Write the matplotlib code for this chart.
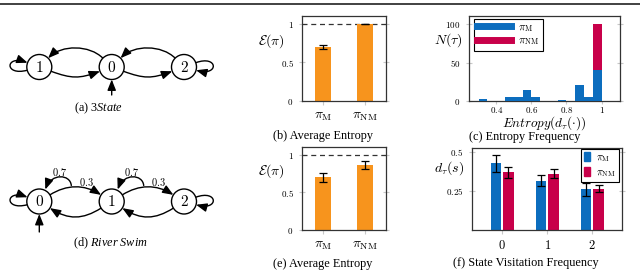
import numpy as np
import matplotlib
matplotlib.use('Agg')
import matplotlib.pyplot as plt
from matplotlib.path import Path
from matplotlib.patches import Circle, FancyArrowPatch, Patch
from matplotlib.lines import Line2D

plt.rcParams['font.family'] = ['Liberation Serif', 'DejaVu Serif']
plt.rcParams['mathtext.fontset'] = 'cm'
# used only by texts that ask for math_fontfamily='custom' (Times-like italics)
plt.rcParams['mathtext.rm'] = 'Liberation Serif'
plt.rcParams['mathtext.it'] = 'Liberation Serif:italic'

# --- data ---
policies = [r'$\pi_{\rm M}$', r'$\pi_{\rm NM}$']
entropy_3state = [0.70, 1.00]
entropy_3state_err = [0.03, 0.0]
entropy_river = [0.70, 0.86]
entropy_river_err = [0.06, 0.05]

hist_bin_left = [0.30, 0.35, 0.40, 0.45, 0.50, 0.55, 0.60, 0.65, 0.70, 0.75, 0.80, 0.85, 0.90, 0.95]
hist_counts_M = [3, 0, 0, 5, 5, 15, 5, 0, 0, 1, 0, 21, 5, 41]
hist_counts_NM = [0, 0, 0, 0, 0, 0, 0, 0, 0, 0, 0, 0, 0, 100]

states = [0, 1, 2]
visit_M = [0.425, 0.315, 0.26]
visit_M_err = [0.055, 0.037, 0.04]
visit_NM = [0.37, 0.36, 0.265]
visit_NM_err = [0.035, 0.03, 0.025]

ORANGE = '#F7941D'
BLUE = '#0C6DBE'
RED = '#C8004A'
SPINE = '#333333'
TICK = '#C8C8C8'

fig = plt.figure(figsize=(6.4, 2.71), dpi=100)

# header rule (cut-off page line)
fig.add_artist(Line2D([0, 1], [1 - 4 / 271] * 2, color='#333333', lw=1.3))

# --- graph diagrams, drawn in pixel coordinates ---
g = fig.add_axes([0, 0, 1, 1])
g.set_xlim(0, 640)
g.set_ylim(271, 0)
g.axis('off')
R = 12.5


def node(c, label):
    g.add_patch(Circle(c, R, fc='white', ec='black', lw=1.0, zorder=3))
    g.text(c[0], c[1] + 0.5, label, ha='center', va='center', fontsize=11, zorder=4)


def on_node(c, ang):
    a = np.radians(ang)
    return (c[0] + R * np.cos(a), c[1] - R * np.sin(a))


def cubic(p0, c1, c2, p3):
    path = Path([p0, c1, c2, p3], [Path.MOVETO, Path.CURVE4, Path.CURVE4, Path.CURVE4])
    g.add_patch(FancyArrowPatch(path=path, arrowstyle='-|>,head_length=0.8,head_width=0.32',
                                mutation_scale=8, lw=1.0, color='black', zorder=2))


def edge(a, ang_a, b, ang_b, L):
    p0 = on_node(a, ang_a)
    p3 = on_node(b, ang_b)
    ra, rb = np.radians(ang_a), np.radians(ang_b)
    c1 = (p0[0] + L * np.cos(ra), p0[1] - L * np.sin(ra))
    c2 = (p3[0] + L * np.cos(rb), p3[1] - L * np.sin(rb))
    cubic(p0, c1, c2, p3)


# (a) 3State
n1, n0, n2 = (39.3, 67.0), (111.7, 67.0), (184.0, 67.0)
edge(n0, 135, n1, 45, 19)
edge(n1, -20, n0, -160, 22)
edge(n2, 135, n0, 45, 19)
edge(n0, -20, n2, -160, 22)
edge(n1, 195, n1, 160, 24)
edge(n2, 20, n2, -15, 24)
cubic((n0[0], 95), (n0[0], 90), (n0[0], 86), (n0[0], n0[1] + R))
for c, lab in [(n1, '$1$'), (n0, '$0$'), (n2, '$2$')]:
    node(c, lab)

# (d) River Swim
m0, m1, m2 = (39.3, 201.5), (111.7, 201.5), (184.0, 201.5)
for a, b in [(m0, m1), (m1, m2)]:
    edge(a, 32, b, 148, 20)
    dx = a[0]
    cubic((dx + 32, 185.5), (dx + 31, 174), (dx + 12, 173), (dx + 6, 189.5))
    g.text(dx + 20, 171.5, '$0.7$', ha='center', va='center', fontsize=7.5)
    g.text(dx + 47, 181.5, '$0.3$', ha='center', va='center', fontsize=7.5)
edge(m1, 212, m0, -32, 22)
edge(m2, 212, m1, -32, 22)
edge(m0, 195, m0, 160, 24)
edge(m2, 20, m2, -15, 24)
cubic((m0[0], 232), (m0[0], 226), (m0[0], 220), (m0[0], m0[1] + R))
for c, lab in [(m0, '$0$'), (m1, '$1$'), (m2, '$2$')]:
    node(c, lab)

# --- charts ---
def style(ax):
    for s in ax.spines.values():
        s.set_color(SPINE)
        s.set_linewidth(0.9)
    ax.tick_params(axis='both', colors=TICK, labelcolor='black', length=3, width=0.8)
    ax.tick_params(axis='y', direction='inout', right=True, length=5)
    ax.set_axisbelow(True)


def entropy_panel(rect, vals, errs, caption, cap_y):
    ax = fig.add_axes(rect)
    x = np.arange(len(vals))
    ax.bar(x, vals, width=0.38, color=ORANGE, zorder=2)
    ax.errorbar(x, vals, yerr=errs, fmt='none', ecolor='black', elinewidth=0.9,
                capsize=3, capthick=0.9, zorder=3)
    ax.axhline(1.0, color='#333333', lw=0.9, ls=(0, (4, 3)), zorder=1)
    ax.set_xlim(-0.5, 1.5)
    ax.set_ylim(0, 1.1)
    ax.set_yticks([0, 0.5, 1])
    ax.set_yticklabels(['$0$', '$0.5$', '$1$'], fontsize=6.5)
    ax.set_xticks(x)
    ax.set_xticklabels(policies, fontsize=10)
    style(ax)
    ax.set_ylabel(r'$\mathcal{E}(\pi)$', rotation=0, fontsize=10, va='center', ha='center')
    ax.yaxis.set_label_coords(-0.36, 0.71)
    fig.text(323 / 640, 1 - cap_y / 271, caption, ha='center', va='center', fontsize=8.8)
    return ax


entropy_panel([302 / 640, 1 - 101 / 271, 84 / 640, 85 / 271],
              entropy_3state, entropy_3state_err, '(b) Average Entropy', 136.5)
entropy_panel([302 / 640, 1 - 230 / 271, 84 / 640, 83 / 271],
              entropy_river, entropy_river_err, '(e) Average Entropy', 263.5)

# (c) entropy histogram
axc = fig.add_axes([469 / 640, 1 - 101 / 271, 151 / 640, 85 / 271])
axc.bar(hist_bin_left, hist_counts_NM, width=0.05, align='edge', color=RED, zorder=2)
axc.bar(hist_bin_left, hist_counts_M, width=0.05, align='edge', color=BLUE, zorder=3)
axc.set_xlim(0.245, 1.105)
axc.set_ylim(0, 111)
axc.set_xticks([0.4, 0.6, 0.8, 1.0])
axc.set_xticklabels(['$0.4$', '$0.6$', '$0.8$', '$1$'], fontsize=6.5)
axc.set_yticks([0, 50, 100])
axc.set_yticklabels(['$0$', '$50$', '$100$'], fontsize=6.5)
style(axc)
axc.tick_params(axis='x', pad=0.5, length=2.5)
axc.set_ylabel(r'$N(\tau)$', rotation=0, fontsize=10, va='center', ha='center')
axc.yaxis.set_label_coords(-0.135, 0.72)
axc.text(0.5, -0.255, r'$Entropy(d_\tau(\cdot))$', transform=axc.transAxes,
         ha='center', va='center', fontsize=9.5)
handles = [Line2D([], [], color=BLUE, lw=5), Line2D([], [], color=RED, lw=5)]
leg = axc.legend(handles, policies, loc='upper left', bbox_to_anchor=(0.033, 0.965),
                 fontsize=8, fancybox=False, framealpha=1, edgecolor='black',
                 handlelength=3.0, handletextpad=0.7, borderpad=0.3, labelspacing=0.15,
                 borderaxespad=0)
leg.get_frame().set_linewidth(0.8)
fig.text(525 / 640, 1 - 137 / 271, '(c) Entropy Frequency', ha='center', va='center', fontsize=8.8)

# (f) state visitation frequency
axf = fig.add_axes([471.5 / 640, 1 - 230 / 271, 150.5 / 640, 82 / 271])
x = np.array(states)
axf.bar(x - 0.14, visit_M, width=0.23, color=BLUE, zorder=2)
axf.bar(x + 0.14, visit_NM, width=0.23, color=RED, zorder=2)
axf.errorbar(x - 0.14, visit_M, yerr=visit_M_err, fmt='none', ecolor='black',
             elinewidth=0.9, capsize=3, capthick=0.9, zorder=3)
axf.errorbar(x + 0.14, visit_NM, yerr=visit_NM_err, fmt='none', ecolor='black',
             elinewidth=0.9, capsize=3, capthick=0.9, zorder=3)
axf.set_xlim(-0.68, 2.66)
axf.set_ylim(0, 0.524)
axf.set_xticks(states)
axf.set_xticklabels(['$0$', '$1$', '$2$'], fontsize=9)
axf.set_yticks([0.25, 0.5])
axf.set_yticklabels(['$0.25$', '$0.5$'], fontsize=6.5)
style(axf)
axf.set_ylabel(r'$d_\tau(s)$', rotation=0, fontsize=10, va='center', ha='center')
axf.yaxis.set_label_coords(-0.15, 0.76)
handles = [Patch(color=BLUE), Patch(color=RED)]
leg = axf.legend(handles, policies, loc='upper right', bbox_to_anchor=(0.98, 0.988),
                 fontsize=7.5, fancybox=False, framealpha=1, edgecolor='black',
                 handlelength=0.55, handleheight=1.0, borderpad=0.3, labelspacing=0.25,
                 handletextpad=0.6, borderaxespad=0)
leg.get_frame().set_linewidth(0.8)
fig.text(526 / 640, 1 - 263 / 271, '(f) State Visitation Frequency', ha='center', va='center', fontsize=8.8)

# captions for diagrams
fig.text(98 / 640, 1 - 108.5 / 271, r'(a) $\mathit{3State}$', ha='center', va='center',
         fontsize=8.8, math_fontfamily='custom')
fig.text(110 / 640, 1 - 243.5 / 271, r'(d) $\mathit{River\ Swim}$', ha='center', va='center',
         fontsize=8.8, math_fontfamily='custom')

fig.savefig('out.png', dpi=100)
